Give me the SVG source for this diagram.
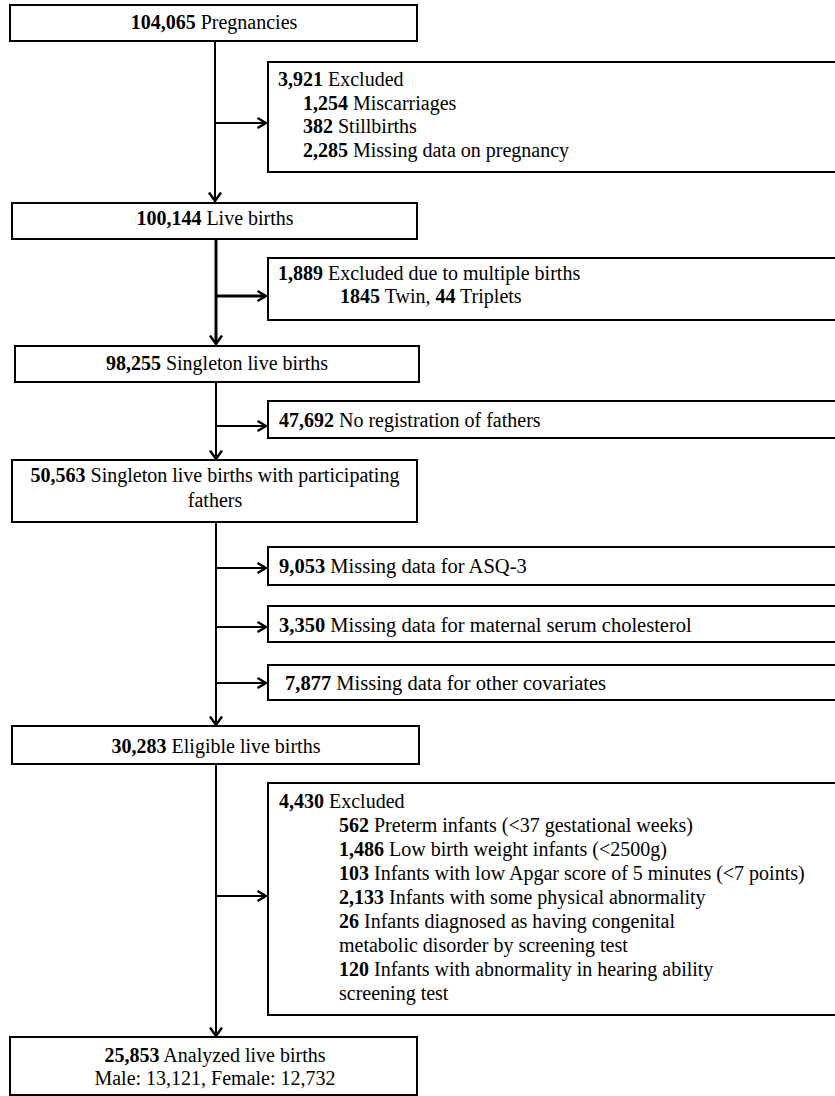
<svg xmlns="http://www.w3.org/2000/svg" width="835" height="1096" viewBox="0 0 835 1096">
<style>
  .box { fill: #fff; stroke: #000; stroke-width: 2; }
  text { font-family: "Liberation Serif", "Times New Roman", serif; font-size: 20px; fill: #000; }
  .c { text-anchor: middle; }
  .b { font-weight: bold; }
  .m { font-size: 20.5px; }
  .ln { stroke: #000; stroke-width: 2; fill: none; }
  .thick { stroke-width: 3; }
</style>
<defs>
  <marker id="ah" viewBox="0 0 10 12" refX="9.5" refY="6" markerWidth="10" markerHeight="12" markerUnits="userSpaceOnUse" orient="auto">
    <path d="M1,1 L9.5,6 L1,11" fill="none" stroke="#000" stroke-width="2.4"/>
  </marker>
  <marker id="ahd" viewBox="0 0 10 14" refX="9.5" refY="7" markerWidth="10" markerHeight="14" markerUnits="userSpaceOnUse" orient="auto">
    <path d="M1,1 L9.5,7 L1,13" fill="none" stroke="#000" stroke-width="2.4"/>
  </marker>
</defs>

<g id="connectors">
  <line class="ln" x1="215" y1="41" x2="215" y2="201" marker-end="url(#ahd)"/>
  <line class="ln" x1="215" y1="123" x2="266" y2="123" marker-end="url(#ah)"/>
  <line class="ln thick" x1="216" y1="240" x2="216" y2="344" marker-end="url(#ahd)"/>
  <line class="ln thick" x1="216" y1="296" x2="266" y2="296" marker-end="url(#ah)"/>
  <line class="ln" x1="216" y1="382" x2="216" y2="459" marker-end="url(#ahd)"/>
  <line class="ln" x1="216" y1="426" x2="266" y2="426" marker-end="url(#ah)"/>
  <line class="ln" x1="216" y1="522" x2="216" y2="725" marker-end="url(#ahd)"/>
  <line class="ln" x1="216" y1="568" x2="266" y2="568" marker-end="url(#ah)"/>
  <line class="ln" x1="216" y1="627" x2="266" y2="627" marker-end="url(#ah)"/>
  <line class="ln" x1="216" y1="683" x2="266" y2="683" marker-end="url(#ah)"/>
  <line class="ln" x1="216" y1="764" x2="216" y2="1036" marker-end="url(#ahd)"/>
  <line class="ln" x1="216" y1="896" x2="266" y2="896" marker-end="url(#ah)"/>
</g>

<g id="n1">
  <rect class="box" x="10" y="5" width="407" height="36"/>
  <text class="c" x="214" y="29"><tspan class="b">104,065</tspan> Pregnancies</text>
</g>
<g id="n2">
  <rect class="box" x="268" y="62" width="575" height="110"/>
  <text x="278" y="86"><tspan class="b">3,921</tspan> Excluded</text>
  <text x="303" y="110"><tspan class="b">1,254</tspan> Miscarriages</text>
  <text x="303" y="133"><tspan class="b">382</tspan> Stillbirths</text>
  <text x="303" y="157"><tspan class="b">2,285</tspan> Missing data on pregnancy</text>
</g>
<g id="n3">
  <rect class="box" x="12" y="203" width="405" height="36"/>
  <text class="c" x="215" y="225"><tspan class="b">100,144</tspan> Live births</text>
</g>
<g id="n4">
  <rect class="box" x="268" y="258" width="575" height="62"/>
  <text x="278" y="280"><tspan class="b">1,889</tspan> Excluded due to multiple births</text>
  <text x="340" y="303"><tspan class="b">1845</tspan> Twin, <tspan class="b">44</tspan> Triplets</text>
</g>
<g id="n5">
  <rect class="box" x="15" y="346" width="404" height="36"/>
  <text class="c" x="217" y="370"><tspan class="b">98,255</tspan> Singleton live births</text>
</g>
<g id="n6">
  <rect class="box" x="268" y="401" width="575" height="37"/>
  <text x="279" y="427"><tspan class="b">47,692</tspan> No registration of fathers</text>
</g>
<g id="n7">
  <rect class="box" x="12" y="460" width="405" height="62"/>
  <text class="c" x="215" y="482"><tspan class="b">50,563</tspan> Singleton live births with participating</text>
  <text class="c" x="215" y="507">fathers</text>
</g>
<g id="n8">
  <rect class="box" x="268" y="547" width="575" height="38"/>
  <text class="m" x="279" y="573"><tspan class="b">9,053</tspan> Missing data for ASQ-3</text>
</g>
<g id="n9">
  <rect class="box" x="268" y="606" width="575" height="36"/>
  <text class="m" x="279" y="632"><tspan class="b">3,350</tspan> Missing data for maternal serum cholesterol</text>
</g>
<g id="n10">
  <rect class="box" x="268" y="665" width="575" height="35"/>
  <text class="m" x="285" y="690"><tspan class="b">7,877</tspan> Missing data for other covariates</text>
</g>
<g id="n11">
  <rect class="box" x="12" y="726" width="407" height="38"/>
  <text class="c" x="216" y="753"><tspan class="b">30,283</tspan> Eligible live births</text>
</g>
<g id="n12">
  <rect class="box" x="268" y="783" width="575" height="232"/>
  <text x="279" y="808"><tspan class="b">4,430</tspan> Excluded</text>
  <text x="339" y="832"><tspan class="b">562</tspan> Preterm infants (&lt;37 gestational weeks)</text>
  <text x="339" y="856"><tspan class="b">1,486</tspan> Low birth weight infants (&lt;2500g)</text>
  <text x="339" y="880"><tspan class="b">103</tspan> Infants with low Apgar score of 5 minutes (&lt;7 points)</text>
  <text x="339" y="904"><tspan class="b">2,133</tspan> Infants with some physical abnormality</text>
  <text x="339" y="928"><tspan class="b">26</tspan> Infants diagnosed as having congenital</text>
  <text x="339" y="952">metabolic disorder by screening test</text>
  <text x="339" y="976"><tspan class="b">120</tspan> Infants with abnormality in hearing ability</text>
  <text x="339" y="1000">screening test</text>
</g>
<g id="n13">
  <rect class="box" x="10" y="1037" width="407" height="58"/>
  <text class="c" x="215" y="1062"><tspan class="b">25,853</tspan> Analyzed live births</text>
  <text class="c" x="215" y="1085">Male: 13,121, Female: 12,732</text>
</g>
</svg>
